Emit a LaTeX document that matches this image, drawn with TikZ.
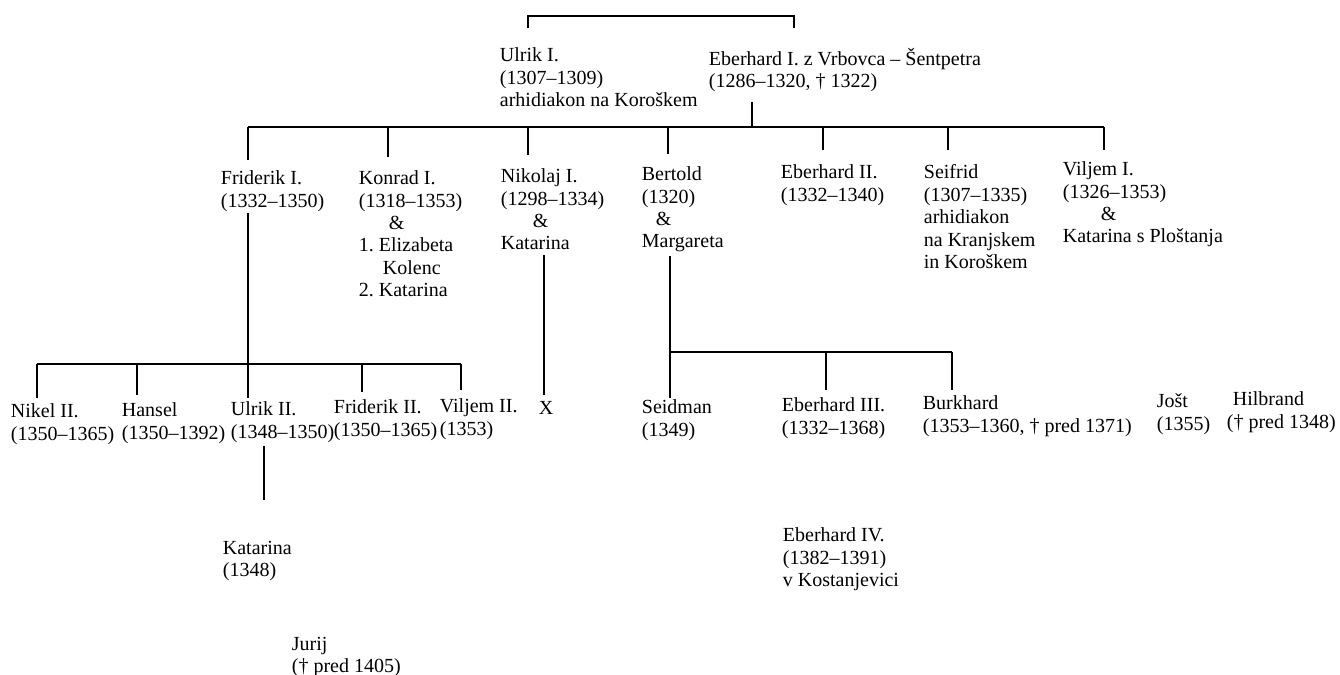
\documentclass[tikz,border=0pt]{standalone}
\usepackage{fontspec}
\setmainfont{Liberation Serif}
\usetikzlibrary{positioning}
\frenchspacing

\begin{document}
\begin{tikzpicture}[x=0.5pt, y=-0.5pt, line width=0.9pt,
    person/.style={anchor=north west, inner sep=0pt, align=left, font=\fontsize{10}{11.2}\selectfont}]
    \useasboundingbox (0,0) rectangle (1340,675);

    % First generation
    \node (ulI) [person] at (499,47) {Ulrik I.\\(1307--1309)\\arhidiakon na Koroškem};
    \node (ebI) [person] at (708,47) {Eberhard I. z Vrbovca -- Šentpetra\\(1286--1320, † 1322)};

    % Second generation
    \node (frI) [person] at (220,170) {Friderik I.\\(1332--1350)};
    \node (koI) [person] at (358,170) {Konrad I.\\(1318--1353)\\\hspace{15pt}\&\\1. Elizabeta\\\hspace{12pt}Kolenc\\2. Katarina};
    \node (niI) [person] at (500,168) {Nikolaj I.\\(1298--1334)\\\hspace{16pt}\&\\Katarina};
    \node (be) [person] at (641,166) {Bertold\\(1320)\\\hspace{7pt}\&\\Margareta};
    \node (ebII) [person] at (780,164) {Eberhard II.\\(1332--1340)};
    \node (se) [person] at (923,164) {Seifrid\\(1307--1335)\\arhidiakon\\na Kranjskem\\in Koroškem};
    \node (viI) [person] at (1062,161) {Viljem I.\\(1326--1353)\\\hspace{19pt}\&\\Katarina s Ploštanja};

    % Third generation
    \node (niII) [person] at (10,403) {Nikel II.\\(1350--1365)};
    \node (ha) [person] at (121,402) {Hansel\\(1350--1392)};
    \node (ulII) [person] at (230,401) {Ulrik II.\\(1348--1350)};
    \node (frII) [person] at (333,399) {Friderik II.\\(1350--1365)};
    \node (viII) [person] at (439,398) {Viljem II.\\(1353)};
    \node (x) [person] at (538,400) {X};
    \node (sd) [person] at (641,399) {Seidman\\(1349)};
    \node (ebIII) [person] at (781,397) {Eberhard III.\\(1332--1368)};
    \node (bu) [person] at (922,395) {Burkhard\\(1353--1360, † pred 1371)};
    \node (jo) [person] at (1156,393) {Jošt\\(1355)};
    \node (hi) [person] at (1226,391) {\hspace{3pt}Hilbrand\\(† pred 1348)};

    % Later
    \node (ka) [person] at (222,540) {Katarina\\(1348)};
    \node (ebIV) [person] at (782,527) {Eberhard IV.\\(1382--1391)\\v Kostanjevici};
    \node (ju) [person] at (291,636) {Jurij\\(† pred 1405)};

    % Bar points
    \coordinate (topL) at (528,28);
    \coordinate (topR) at (794,28);
    \coordinate (ebIdown) at (752,102);
    \coordinate (barL) at (248,127);
    \coordinate (barR) at (1104,127);
    \coordinate (frIdown) at (248,213);
    \coordinate (famL) at (37,364);
    \coordinate (famR) at (461,364);
    \coordinate (niIdown) at (544,255);
    \coordinate (beDown) at (670,256);
    \coordinate (beBarR) at (952,352);
    \coordinate (ulIIdown) at (264,446);

    % Top bracket
    \draw (topL) -- ++(0,-12) -| (topR);

    % Sons of Eberhard I.
    \draw (ebIdown) -- (ebIdown |- barL);
    \draw (barL) -- (barR);
    \draw (barL) -- ++(0,33);
    \draw (388,127) -- (388,157);
    \draw (528,127) -- (528,155);
    \draw (668,127) -- (668,154);
    \draw (823,127) -- (823,150);
    \draw (948,127) -- (948,150);
    \draw (barR) -- ++(0,23);

    % Sons of Friderik I.
    \draw (frIdown) -- (frIdown |- famL);
    \draw (famL) -- (famR);
    \draw (famL) -- ++(0,34);
    \draw (137,364) -- (137,395);
    \draw (248,364) -- (248,398);
    \draw (362,364) -- (362,392);
    \draw (famR) -- ++(0,26);

    % Nikolaj I.
    \draw (niIdown) -- ++(0,140);

    % Sons of Bertold
    \draw (beDown) -- ++(0,142);
    \draw (beDown |- beBarR) -- (beBarR);
    \draw (826,352) -- (826,390);
    \draw (beBarR) -- ++(0,38);

    % Ulrik II.
    \draw (ulIIdown) -- ++(0,54);
\end{tikzpicture}
\end{document}
